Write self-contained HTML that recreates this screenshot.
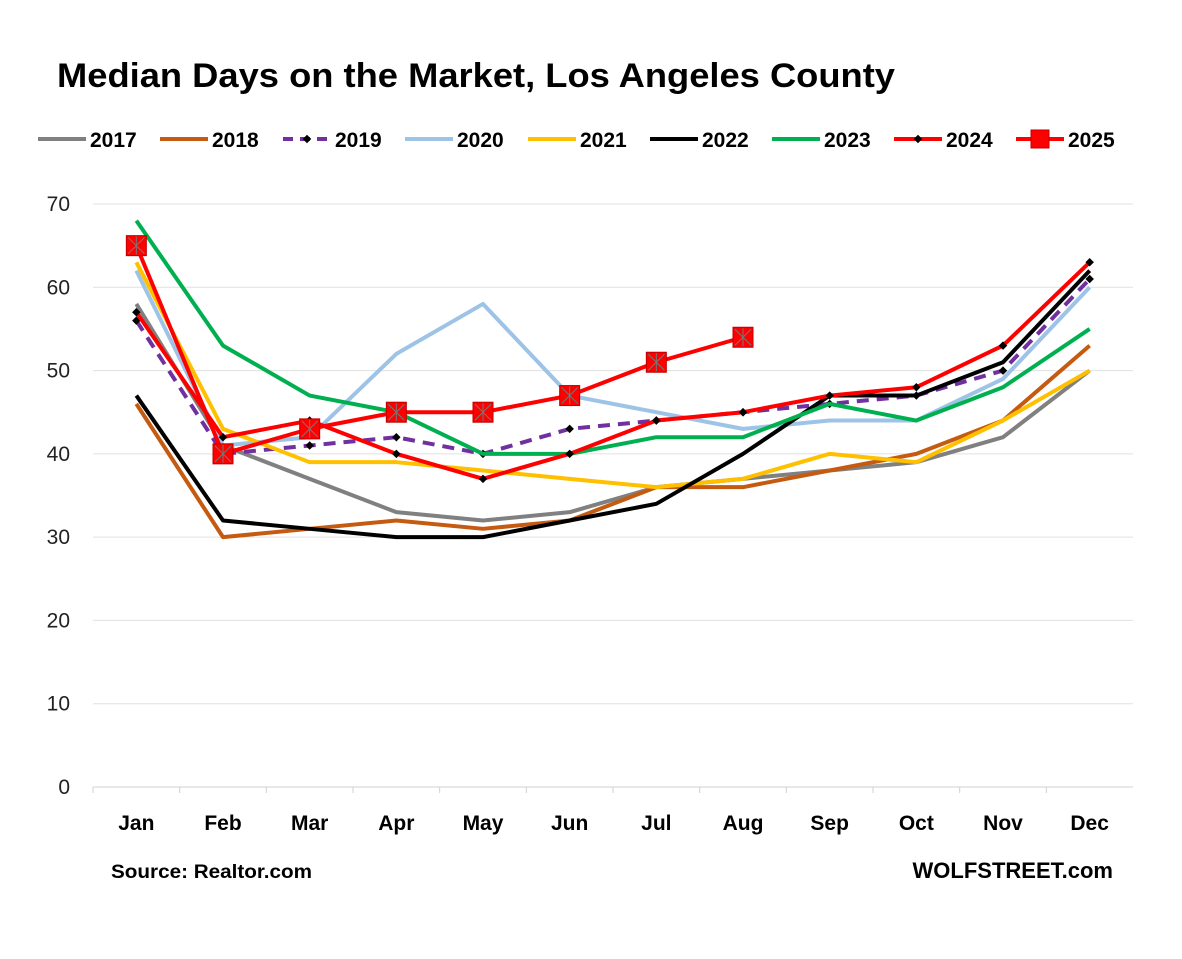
<!DOCTYPE html>
<html><head><meta charset="utf-8"><style>
body{margin:0;background:#fff;font-family:"Liberation Sans",Arial,sans-serif}
svg text{font-family:"Liberation Sans",Arial,sans-serif}
</style></head><body>
<svg id="c" width="1182" height="954" xmlns="http://www.w3.org/2000/svg">
<text x="57" y="87" font-size="34" font-weight="bold" fill="#000" textLength="838" lengthAdjust="spacingAndGlyphs">Median Days on the Market, Los Angeles County</text>
<g id="grid"></g><g id="lines"></g><g id="legend"></g>
<text x="111" y="878" font-size="19" font-weight="bold" textLength="201" lengthAdjust="spacingAndGlyphs">Source: Realtor.com</text>
<text x="1113" y="878" font-size="22" font-weight="bold" text-anchor="end">WOLFSTREET.com</text>
</svg>
<script>
const months=["Jan","Feb","Mar","Apr","May","Jun","Jul","Aug","Sep","Oct","Nov","Dec"];
const yTicks=[0,10,20,30,40,50,60,70];
const years=["2017","2018","2019","2020","2021","2022","2023","2024","2025"];
const s2017=[58,41,37,33,32,33,36,37,38,39,42,50];
const s2018=[46,30,31,32,31,32,36,36,38,40,44,53];
const s2019=[56,40,41,42,40,43,44,45,46,47,50,61];
const s2020=[62,41,42,52,58,47,45,43,44,44,49,60];
const s2021=[63,43,39,39,38,37,36,37,40,39,44,50];
const s2022=[47,32,31,30,30,32,34,40,47,47,51,62];
const s2023=[68,53,47,45,40,40,42,42,46,44,48,55];
const s2024=[57,42,44,40,37,40,44,45,47,48,53,63];
const s2025=[65,40,43,45,45,47,51,54];
const NS="http://www.w3.org/2000/svg";
const styles=[
{c:"#808080"},{c:"#C55A11"},{c:"#7030A0",dash:"12,8",dot:true},{c:"#9DC3E6"},{c:"#FFC000"},{c:"#000000"},{c:"#00B050"},{c:"#FF0000",dot:true},{c:"#FF0000",sq:true}];
const series=[s2017,s2018,s2019,s2020,s2021,s2022,s2023,s2024,s2025];
const X0=93,X1=1133,Y0=787,Y70=204;
const xs=i=>X0+(X1-X0)/12*(i+0.5);
const ys=v=>Y0-(Y0-Y70)*v/70;
function el(t,a,p){const e=document.createElementNS(NS,t);for(const k in a)e.setAttribute(k,a[k]);p.appendChild(e);return e;}
const g=document.getElementById("grid");
yTicks.forEach(v=>{
 const l=el("line",{x1:X0,x2:X1,y1:ys(v),y2:ys(v),stroke:v===0?"#d0d0d0":"#e0e0e0","stroke-width":1},g);
 
 
 const t=el("text",{x:70,y:ys(v)+7,"font-size":21,"text-anchor":"end",fill:"#222"},g);t.textContent=v;
 
 
});
months.forEach((m,i)=>{
 const tk=el("line",{x1:X0+(X1-X0)/12*i,x2:X0+(X1-X0)/12*i,y1:Y0,y2:Y0+6,stroke:"#d0d0d0"},g);
 
 
 const t=el("text",{x:xs(i),y:830,"font-size":21,"font-weight":"bold","text-anchor":"middle"},g);t.textContent=m;
 
 
});
const L=document.getElementById("lines");
series.forEach((d,k)=>{
 const st=styles[k];
 const gg=el("g",{},L);
 
 
 const p=el("polyline",{points:d.map((v,i)=>xs(i)+","+ys(v)).join(" "),fill:"none",stroke:st.c,"stroke-width":4,"stroke-linejoin":"round"},gg);
 if(st.dash)p.setAttribute("stroke-dasharray",st.dash);
 d.forEach((v,i)=>{
  if(st.dot){const m=el("rect",{x:xs(i)-3,y:ys(v)-3,width:6,height:6,fill:"#000",transform:`rotate(45 ${xs(i)} ${ys(v)})`},gg);
   
   }
  if(st.sq){const m=el("rect",{x:xs(i)-10,y:ys(v)-10,width:20,height:20,fill:"#FF0000",stroke:"#c00000","stroke-width":1},gg);
   
   
   el("path",{d:`M${xs(i)-8} ${ys(v)-8}L${xs(i)+8} ${ys(v)+8}M${xs(i)+8} ${ys(v)-8}L${xs(i)-8} ${ys(v)+8}M${xs(i)} ${ys(v)-9}V${ys(v)+9}`,stroke:"#777","stroke-width":1},gg);}
 });
});
const LG=document.getElementById("legend");
const lx=[38,160,283,405,528,650,772,894,1016];
years.forEach((y,k)=>{
 const st=styles[k],x=lx[k],yy=139;
 const gg=el("g",{},LG);
 
 
 const l=el("line",{x1:x,x2:x+48,y1:yy,y2:yy,stroke:st.c,"stroke-width":4},gg);
 if(st.dash)l.setAttribute("stroke-dasharray","10,7");
 if(st.dot)el("rect",{x:x+21,y:yy-3,width:6,height:6,fill:"#000",transform:`rotate(45 ${x+24} ${yy})`},gg);
 if(st.sq)el("rect",{x:x+15,y:yy-9,width:18,height:18,fill:"#FF0000",stroke:"#c00000"},gg);
 const t=el("text",{x:x+52,y:yy+8,"font-size":21,"font-weight":"bold"},gg);t.textContent=y;
});
</script>
</body></html>
